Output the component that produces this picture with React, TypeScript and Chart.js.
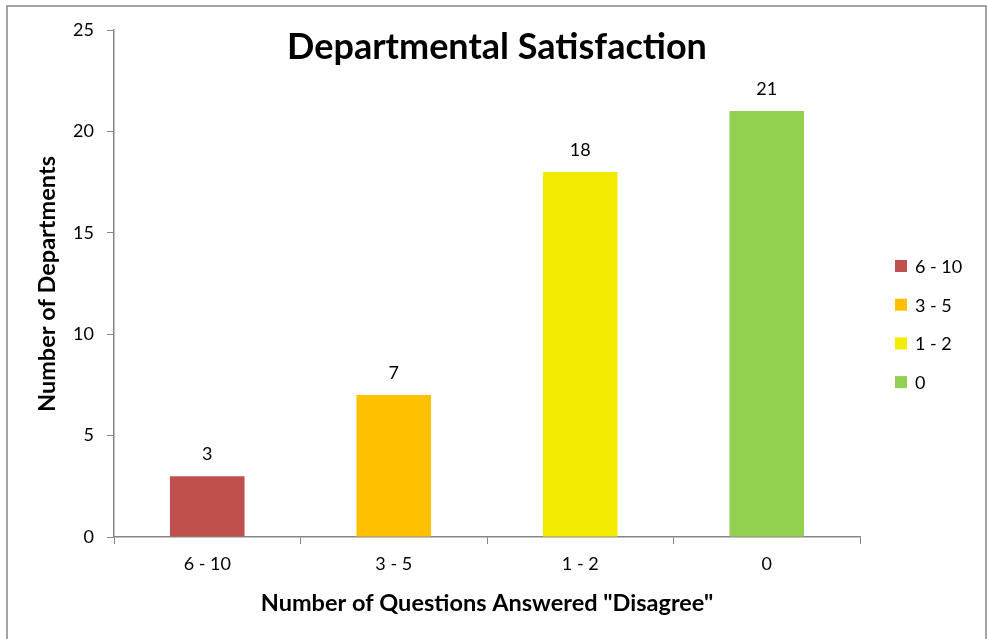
import React, { useEffect, useRef } from "react";
import { Chart, registerables } from "chart.js";

Chart.register(...registerables);

const categories = ["6 - 10", "3 - 5", "1 - 2", "0"];
const departments = [3, 7, 18, 21];
const barColors = ["#C0504D", "#FFC000", "#F2EC00", "#92D050"];
const yTicks = [0, 5, 10, 15, 20, 25];
const chartTitle = "Departmental Satisfaction";
const xTitle = 'Number of Questions Answered "Disagree"';
const yTitle = "Number of Departments";

const FONT = "Lato, 'Open Sans', sans-serif";
const AXIS = "#868686";

export default function App() {
  const ref = useRef<HTMLCanvasElement | null>(null);
  useEffect(() => {
    document.body.style.margin = "0";
    const canvas = ref.current!;
    const decor = {
      id: "decor",
      afterDraw(chart: any) {
        const ctx = chart.ctx as CanvasRenderingContext2D;
        ctx.save();
        // outer frame
        ctx.strokeStyle = AXIS;
        ctx.lineWidth = 1.5;
        ctx.strokeRect(7, 6, 979, 640);
        // title
        ctx.fillStyle = "#000";
        ctx.textAlign = "center";
        ctx.textBaseline = "middle";
        ctx.font = `bold 36px ${FONT}`;
        ctx.fillText(chartTitle, 497, 47);
        // x title
        ctx.font = `bold 23.5px ${FONT}`;
        ctx.fillText(xTitle, 487, 603);
        // y title
        ctx.save();
        ctx.translate(47, 284);
        ctx.rotate(-Math.PI / 2);
        ctx.fillText(yTitle, 0, 0);
        ctx.restore();
        // data labels
        const meta = chart.getDatasetMeta(0);
        ctx.font = `18px ${FONT}`;
        meta.data.forEach((bar: any, i: number) => {
          ctx.fillText(String(departments[i]), bar.x, bar.y - 22);
        });
        // legend
        ctx.textAlign = "left";
        categories.forEach((c, i) => {
          const cy = 266 + i * 38.7;
          ctx.fillStyle = barColors[i];
          ctx.fillRect(895, cy - 6, 12, 12);
          ctx.fillStyle = "#000";
          ctx.fillText(c, 915, cy + 1);
        });
        ctx.restore();
      },
    };
    const chart = new Chart(canvas, {
      type: "bar",
      data: {
        labels: categories,
        datasets: [
          {
            label: "Departments",
            data: departments,
            backgroundColor: barColors,
            borderWidth: 0,
            barPercentage: 0.4,
            categoryPercentage: 1,
          },
        ],
      },
      options: {
        responsive: false,
        animation: false,
        layout: { padding: { left: 0, top: 30, right: 128, bottom: 0 } },
        plugins: {
          legend: { display: false },
          title: { display: false },
          tooltip: { enabled: false },
        },
        scales: {
          x: {
            offset: true,
            grid: {
              offset: true,
              drawOnChartArea: false,
              drawTicks: true,
              tickLength: 7,
              color: AXIS,
            },
            border: { color: AXIS, width: 1.5 },
            ticks: { color: "#000", font: { family: FONT, size: 18 }, padding: 9 },
            afterFit(scale: any) {
              scale.height = 102;
            },
          },
          y: {
            min: 0,
            max: 25,
            afterBuildTicks(scale: any) {
              scale.ticks = yTicks.map((v) => ({ value: v }));
            },
            grid: {
              drawOnChartArea: false,
              drawTicks: true,
              tickLength: 7,
              color: AXIS,
            },
            border: { color: AXIS, width: 1.5 },
            ticks: { color: "#000", font: { family: FONT, size: 18 }, padding: 13 },
            afterFit(scale: any) {
              scale.width = 114;
            },
          },
        },
      },
      plugins: [decor],
    });
    return () => chart.destroy();
  }, []);
  return <canvas ref={ref} width={988} height={639} style={{ display: "block" }} />;
}
